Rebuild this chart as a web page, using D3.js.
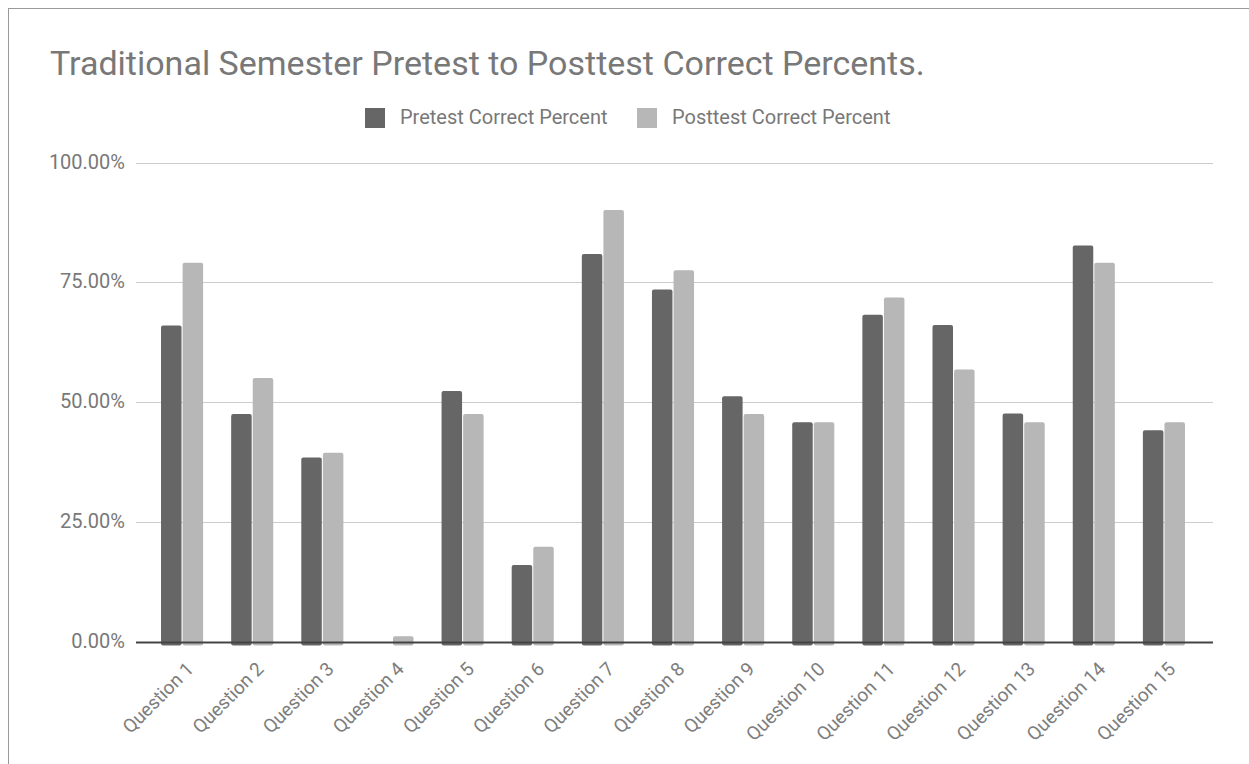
<!DOCTYPE html>
<html>
<head>
<meta charset="utf-8">
<script src="https://cdn.jsdelivr.net/npm/d3@7"></script>
<style>
  html, body { margin: 0; padding: 0; background: #fff; }
  svg { display: block; }
</style>
</head>
<body>
<svg id="chart" width="1249" height="764"></svg>
<script>
const categories = ["Question 1","Question 2","Question 3","Question 4","Question 5","Question 6","Question 7","Question 8","Question 9","Question 10","Question 11","Question 12","Question 13","Question 14","Question 15"];
const seriesNames = ["Pretest Correct Percent","Posttest Correct Percent"];
const pretest = [66.2, 47.7, 38.6, 0, 52.5, 16.2, 81.1, 73.7, 51.4, 46.0, 68.4, 66.3, 47.8, 82.9, 44.3];
const posttest = [79.3, 55.2, 39.6, 1.3, 47.7, 20.0, 90.3, 77.7, 47.7, 46.0, 72.0, 57.0, 46.0, 79.3, 46.0];
const yTicks = [0, 25, 50, 75, 100];
const yTickLabels = ["0.00%","25.00%","50.00%","75.00%","100.00%"];
const titleText = "Traditional Semester Pretest to Posttest Correct Percents.";

const colors = ["#666666", "#b7b7b7"];
const textColor = "#787878";
const svg = d3.select("#chart");

// frame
svg.append("line").attr("x1", 8.5).attr("x2", 8.5).attr("y1", 8).attr("y2", 764).attr("stroke", "#9a9a9a");
svg.append("line").attr("x1", 8).attr("x2", 1249).attr("y1", 8.5).attr("y2", 8.5).attr("stroke", "#9a9a9a");

const x0 = d3.scaleBand().domain(categories).range([147, 1199]).paddingInner(0.4).paddingOuter(0.2);
const x1 = d3.scaleBand().domain(seriesNames).range([0, x0.bandwidth()]).paddingInner(0.05);
const y = d3.scaleLinear().domain([0, 100]).range([642.5, 163.5]);

const gridL = 136, gridR = 1213;

// gridlines
svg.append("g").selectAll("line").data(yTicks.filter(d => d !== 0)).join("line")
  .attr("x1", gridL).attr("x2", gridR)
  .attr("y1", d => Math.round(y(d)) - 0.5).attr("y2", d => Math.round(y(d)) - 0.5)
  .attr("stroke", "#cccccc").attr("stroke-width", 1);

// y labels
svg.append("g").selectAll("text").data(yTicks).join("text")
  .attr("x", 125).attr("y", d => y(d) - 2).attr("dy", "0.35em")
  .attr("text-anchor", "end")
  .attr("font-family", "Roboto, sans-serif").attr("font-size", 20)
  .attr("fill", textColor)
  .text((d, i) => yTickLabels[i]);

// bars
const data = categories.map((c, i) => ({ cat: c, values: [pretest[i], posttest[i]] }));
const groups = svg.append("g").selectAll("g").data(data).join("g")
  .attr("transform", d => `translate(${x0(d.cat)},0)`);
groups.selectAll("rect").data(d => d.values.map((v, j) => ({ v, s: seriesNames[j], j })).filter(e => e.v > 0)).join("rect")
  .attr("x", e => x1(e.s))
  .attr("width", x1.bandwidth())
  .attr("y", e => y(e.v))
  .attr("height", e => y(0) - y(e.v) + 3)
  .attr("rx", 2)
  .attr("fill", e => colors[e.j]);

// baseline
svg.append("line").attr("x1", gridL).attr("x2", gridR).attr("y1", y(0)).attr("y2", y(0))
  .attr("stroke", "#444444").attr("stroke-width", 2);

// x labels
svg.append("g").selectAll("text").data(categories).join("text")
  .attr("transform", d => `translate(${x0(d) + x0.bandwidth() / 2 + 8},${y(0) + 23}) rotate(-45)`)
  .attr("text-anchor", "end")
  .attr("dy", "0.35em")
  .attr("font-family", "Roboto, sans-serif").attr("font-size", 19)
  .attr("fill", "#7d7d7d")
  .text(d => d);

// title
svg.append("text").attr("x", 50).attr("y", 75)
  .attr("font-family", "Roboto, sans-serif").attr("font-size", 34)
  .attr("fill", textColor).text(titleText);

// legend
const legendItems = [
  { name: seriesNames[0], color: colors[0], sx: 365, tx: 400 },
  { name: seriesNames[1], color: colors[1], sx: 637, tx: 672 }
];
const lg = svg.append("g");
lg.selectAll("rect").data(legendItems).join("rect")
  .attr("x", d => d.sx).attr("y", 108).attr("width", 20).attr("height", 20)
  .attr("fill", d => d.color);
lg.selectAll("text").data(legendItems).join("text")
  .attr("x", d => d.tx).attr("y", 117).attr("dy", "0.35em")
  .attr("font-family", "Roboto, sans-serif").attr("font-size", 20)
  .attr("fill", textColor).text(d => d.name);
</script>
</body>
</html>
